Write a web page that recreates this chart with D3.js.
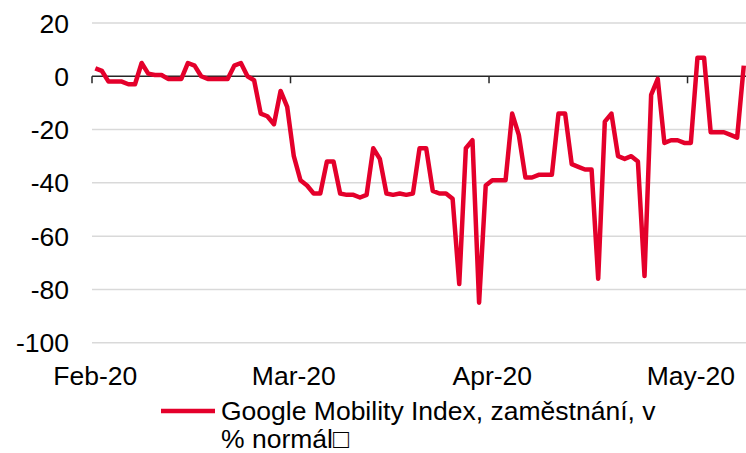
<!DOCTYPE html>
<html>
<head>
<meta charset="utf-8">
<script src="https://cdn.jsdelivr.net/npm/d3@7"></script>
<style>
    html, body { margin: 0; padding: 0; background: #fff; }
    svg { display: block; font-family: "Liberation Sans", Arial, sans-serif; }
</style>
</head>
<body>
<div id="chart"></div>
<script>
// daily values from 15 Feb 2020, one per day
const startDate = "2020-02-15";
const mobility = [
    3, 2, -2, -2, -2, -3, -3, 5, 1, 0.5,
    0.5, -1, -1, -1, 5, 4, 0, -1, -1, -1,
    -1, 4, 5, 0, -1.5, -14, -15, -18, -5.5, -11.5,
    -30, -39, -41, -44, -44, -32, -32, -44, -44.5, -44.5,
    -45.5, -44.5, -27, -31, -44, -44.5, -44, -44.5, -44, -27,
    -27, -43, -44, -44, -46, -78, -27, -24, -85, -41,
    -39, -39, -39, -14, -22, -38, -38, -37, -37, -37,
    -14, -14, -33, -34, -35, -35, -76, -17, -14, -30,
    -31, -30, -32, -75, -7, -1, -25, -24, -24, -25,
    -25, 7, 7, -21, -21, -21, -22, -23, 4
];
const tickIndex = [0, 30, 60, 90];
const tickLabels = ["Feb-20", "Mar-20", "Apr-20", "May-20"];
const yTicks = [20, 0, -20, -40, -60, -80, -100];
const legendLines = ["Google Mobility Index, zaměstnání, v", "% normál□"];

const width = 746, height = 453;
const red = "#e4002b";
const fontSize = 26.5;

const parse = d3.timeParse("%Y-%m-%d");
const days = mobility.map((v, i) => d3.timeDay.offset(parse(startDate), i));

const svg = d3.select("#chart").append("svg")
    .attr("width", width)
    .attr("height", height);

const x = d3.scaleBand()
    .domain(d3.range(mobility.length))
    .range([92, 92 + mobility.length * 6.617])
    .padding(0);

const y = d3.scaleLinear()
    .domain([-100, 20])
    .range([342.7, 23]);

const cx = i => x(i) + x.bandwidth() / 2;

// gridlines
svg.append("g")
    .selectAll("line")
    .data(yTicks.filter(d => d !== 0))
    .join("line")
    .attr("x1", 92)
    .attr("x2", width)
    .attr("y1", d => y(d))
    .attr("y2", d => y(d))
    .attr("stroke", "#d9d9d9")
    .attr("stroke-width", 1.5);

// y labels
svg.append("g")
    .selectAll("text")
    .data(yTicks)
    .join("text")
    .attr("x", 69)
    .attr("y", d => y(d) + 9.5)
    .attr("text-anchor", "end")
    .attr("font-size", fontSize)
    .attr("fill", "#000")
    .text(d => d);

// zero axis with category ticks
const axis = svg.append("g");
axis.append("line")
    .attr("x1", 92)
    .attr("x2", width)
    .attr("y1", y(0))
    .attr("y2", y(0))
    .attr("stroke", "#262626")
    .attr("stroke-width", 1.5);

axis.selectAll("line.tick")
    .data(tickIndex)
    .join("line")
    .attr("class", "tick")
    .attr("x1", d => x(d))
    .attr("x2", d => x(d))
    .attr("y1", y(0))
    .attr("y2", y(0) + 7)
    .attr("stroke", "#262626")
    .attr("stroke-width", 1.5);

// x labels
svg.append("g")
    .selectAll("text")
    .data(tickIndex)
    .join("text")
    .attr("x", d => cx(d))
    .attr("y", 385)
    .attr("text-anchor", "middle")
    .attr("font-size", fontSize)
    .attr("fill", "#000")
    .text((d, i) => tickLabels[i]);

// series
const line = d3.line()
    .x((d, i) => cx(i))
    .y(d => y(d));

svg.append("path")
    .datum(mobility)
    .attr("d", line)
    .attr("fill", "none")
    .attr("stroke", red)
    .attr("stroke-width", 4.5)
    .attr("stroke-linejoin", "round");

// legend
const legend = svg.append("g");
legend.append("line")
    .attr("x1", 161)
    .attr("x2", 215)
    .attr("y1", 411)
    .attr("y2", 411)
    .attr("stroke", red)
    .attr("stroke-width", 4.5);

legend.selectAll("text")
    .data(legendLines)
    .join("text")
    .attr("x", 221)
    .attr("y", (d, i) => 420 + i * 28)
    .attr("font-size", fontSize)
    .attr("fill", "#000")
    .text(d => d);
</script>
</body>
</html>
